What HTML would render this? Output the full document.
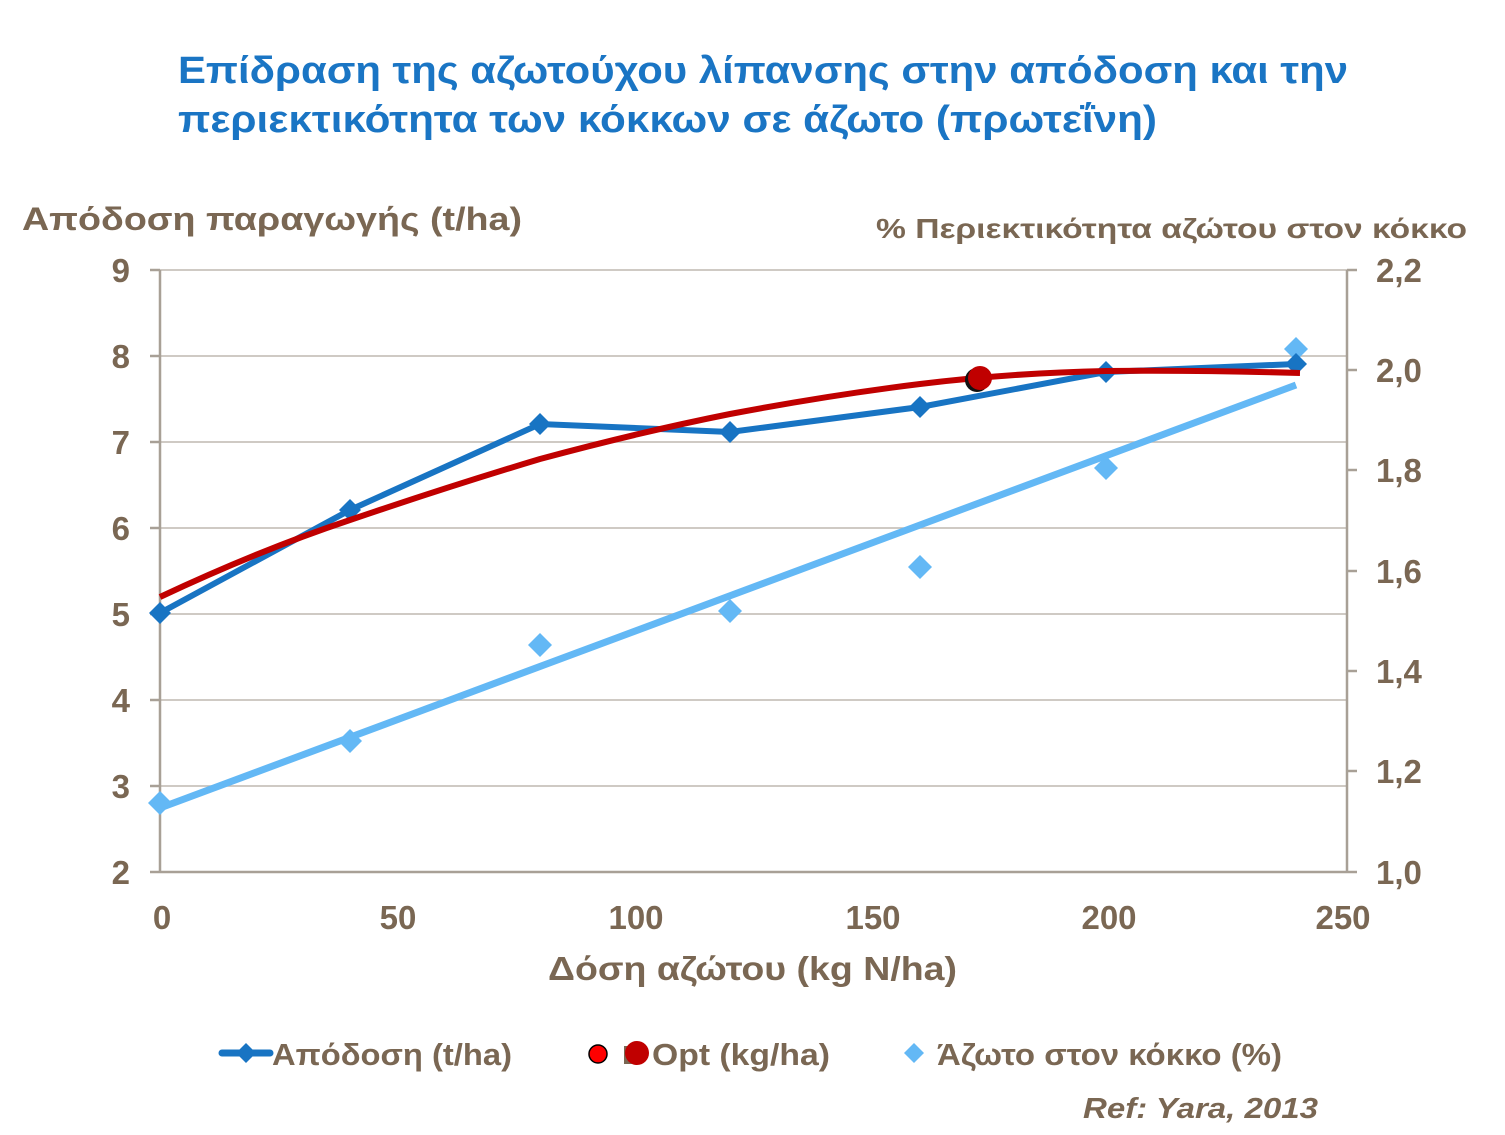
<!DOCTYPE html>
<html><head><meta charset="utf-8"><style>
body{margin:0;background:#fff;width:1505px;height:1130px;overflow:hidden}
svg text{font-family:"Liberation Sans",sans-serif;font-weight:bold}
</style></head><body>
<svg width="1505" height="1130" xmlns="http://www.w3.org/2000/svg">
<text x="178" y="83" font-size="38" fill="#1a75c4" textLength="1170" lengthAdjust="spacingAndGlyphs">Επίδραση της αζωτούχου λίπανσης στην απόδοση και την</text>
<text x="178" y="132" font-size="38" fill="#1a75c4" textLength="979" lengthAdjust="spacingAndGlyphs">περιεκτικότητα των κόκκων σε άζωτο (πρωτεΐνη)</text>
<text x="22" y="230" font-size="32" fill="#7a6753" textLength="500" lengthAdjust="spacingAndGlyphs">Απόδοση παραγωγής (t/ha)</text>
<text x="876" y="238" font-size="28" fill="#7a6753" textLength="591" lengthAdjust="spacingAndGlyphs">% Περιεκτικότητα αζώτου στον κόκκο</text>
<g stroke="#bfb8b0" stroke-width="1.5">
<line x1="160" y1="270" x2="1347" y2="270"/><line x1="160" y1="356" x2="1347" y2="356"/>
<line x1="160" y1="442" x2="1347" y2="442"/><line x1="160" y1="528" x2="1347" y2="528"/>
<line x1="160" y1="614" x2="1347" y2="614"/><line x1="160" y1="700" x2="1347" y2="700"/>
<line x1="160" y1="786" x2="1347" y2="786"/>
</g>
<g stroke="#a8a096" stroke-width="2.5">
<line x1="160" y1="270" x2="160" y2="872"/><line x1="1347" y1="270" x2="1347" y2="872"/>
<line x1="160" y1="872" x2="1347" y2="872"/>
<line x1="150" y1="270" x2="160" y2="270"/><line x1="150" y1="356" x2="160" y2="356"/><line x1="150" y1="442" x2="160" y2="442"/><line x1="150" y1="528" x2="160" y2="528"/><line x1="150" y1="614" x2="160" y2="614"/><line x1="150" y1="700" x2="160" y2="700"/><line x1="150" y1="786" x2="160" y2="786"/><line x1="150" y1="872" x2="160" y2="872"/>
<line x1="1347" y1="270" x2="1357" y2="270"/><line x1="1347" y1="370" x2="1357" y2="370"/><line x1="1347" y1="470" x2="1357" y2="470"/><line x1="1347" y1="571" x2="1357" y2="571"/><line x1="1347" y1="671" x2="1357" y2="671"/><line x1="1347" y1="771" x2="1357" y2="771"/><line x1="1347" y1="872" x2="1357" y2="872"/>
</g>
<g font-size="33" fill="#7a6753" text-anchor="end">
<text x="130" y="282">9</text><text x="130" y="368">8</text><text x="130" y="454">7</text><text x="130" y="540">6</text><text x="130" y="626">5</text><text x="130" y="712">4</text><text x="130" y="798">3</text><text x="130" y="884">2</text>
</g>
<g font-size="33" fill="#7a6753">
<text x="1376" y="282">2,2</text><text x="1376" y="382">2,0</text><text x="1376" y="482">1,8</text><text x="1376" y="583">1,6</text><text x="1376" y="683">1,4</text><text x="1376" y="783">1,2</text><text x="1376" y="884">1,0</text>
</g>
<g font-size="33" fill="#7a6753" text-anchor="middle">
<text x="162" y="929">0</text><text x="398" y="929">50</text><text x="636" y="929">100</text><text x="873" y="929">150</text><text x="1109" y="929">200</text><text x="1343" y="929">250</text>
</g>
<text x="548" y="980" font-size="33" fill="#7a6753" textLength="409" lengthAdjust="spacingAndGlyphs">Δόση αζώτου (kg N/ha)</text>
<line x1="160" y1="808" x2="1296" y2="385" stroke="#63b8f5" stroke-width="7"/>
<g fill="#63b8f5">
<path d="M160 791l12 12-12 12-12-12z"/><path d="M350 729l12 12-12 12-12-12z"/><path d="M540 633l12 12-12 12-12-12z"/><path d="M730 599l12 12-12 12-12-12z"/><path d="M920 555l12 12-12 12-12-12z"/><path d="M1106 456l12 12-12 12-12-12z"/><path d="M1296 337l12 12-12 12-12-12z"/>
</g>
<polyline points="160,613 350,510 540,424 730,432 920,407 1106,372 1296,364" fill="none" stroke="#1874c3" stroke-width="6"/>
<g fill="#1874c3">
<path d="M160 602l11 11-11 11-11-11z"/><path d="M350 499l11 11-11 11-11-11z"/><path d="M540 413l11 11-11 11-11-11z"/><path d="M730 421l11 11-11 11-11-11z"/><path d="M920 396l11 11-11 11-11-11z"/><path d="M1106 361l11 11-11 11-11-11z"/><path d="M1296 353l11 11-11 11-11-11z"/>
</g>
<path d="M160 597 Q 260 550 350 520 Q 450 486 540 459 Q 640 432 730 414 Q 830 395 920 384 Q 1010 373 1106 371 Q 1200 370 1300 373" fill="none" stroke="#c00000" stroke-width="6"/>
<circle cx="977" cy="380" r="12" fill="#111"/>
<circle cx="980" cy="378" r="12" fill="#c00000"/>
<line x1="222" y1="1053" x2="270" y2="1053" stroke="#1874c3" stroke-width="7" stroke-linecap="round"/>
<path d="M246 1043l10 10-10 10-10-10z" fill="#1874c3"/>
<text x="272" y="1065" font-size="31" fill="#7a6753" textLength="240" lengthAdjust="spacingAndGlyphs">Απόδοση (t/ha)</text>
<circle cx="598" cy="1054" r="9" fill="#ff0000" stroke="#000" stroke-width="1.5"/>
<rect x="624" y="1046" width="10" height="18" fill="#7a6753"/>
<circle cx="637" cy="1053" r="12" fill="#c00000"/>
<text x="652" y="1065" font-size="31" fill="#7a6753" textLength="178" lengthAdjust="spacingAndGlyphs">Opt (kg/ha)</text>
<path d="M914 1043l10 10-10 10-10-10z" fill="#63b8f5"/>
<text x="937" y="1065" font-size="31" fill="#7a6753" textLength="345" lengthAdjust="spacingAndGlyphs">Άζωτο στον κόκκο (%)</text>
<text x="1083" y="1118" font-size="29" fill="#7a6753" font-style="italic" textLength="235" lengthAdjust="spacingAndGlyphs">Ref: Yara, 2013</text>
</svg>
</body></html>
